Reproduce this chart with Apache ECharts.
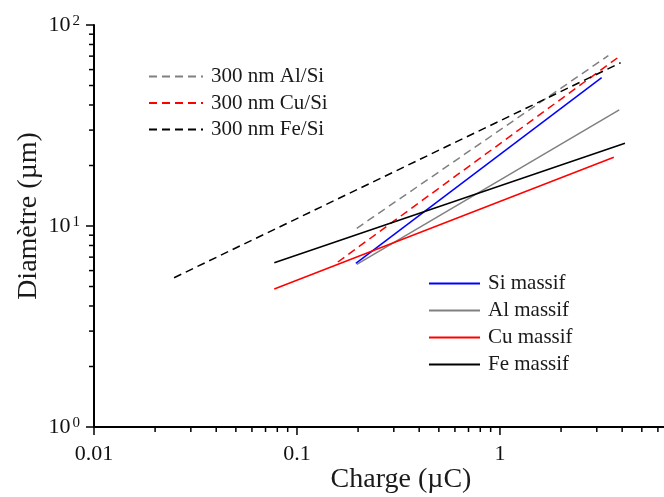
<!DOCTYPE html>
<html>
<head>
<meta charset="utf-8">
<title>Diamètre vs Charge</title>
<script src="https://cdn.jsdelivr.net/npm/echarts@6/dist/echarts.min.js"></script>
<style>
  html, body { margin: 0; padding: 0; background: #fff; }
  #chart { width: 664px; height: 497px; }
</style>
</head>
<body>
<div id="chart"></div>
<script>
// values (log-log, straight power-law segments)
var alSiFilm = [[0.197, 9.74], [3.42, 70.4]];
var cuSiFilm = [[0.159, 6.62], [3.83, 69.1]];
var feSiFilm = [[0.0248, 5.53], [3.93, 64.9]];
var siBulk = [[0.195, 6.52], [3.17, 54.7]];
var alBulk = [[0.197, 6.45], [3.87, 37.8]];
var cuBulk = [[0.0773, 4.86], [3.64, 21.97]];
var feBulk = [[0.0773, 6.57], [4.13, 25.8]];

var xMin = 0.01, xMax = 6.43;
var yMin = 1, yMax = 100;
var xTickLabels = ['0.01', '0.1', '1'];
var yTickExp = ['0', '1', '2'];
var xTicks = [0.01, 0.02, 0.03, 0.04, 0.05, 0.06, 0.07, 0.08, 0.09,
  0.1, 0.2, 0.3, 0.4, 0.5, 0.6, 0.7, 0.8, 0.9,
  1, 2, 3, 4, 5, 6];
var yTicks = [1, 2, 3, 4, 5, 6, 7, 8, 9,
  10, 20, 30, 40, 50, 60, 70, 80, 90, 100];

var serif = "'Liberation Serif', 'Times New Roman', serif";
var dash = [8, 5];

function isMajor(v) {
  var l = Math.log10(v);
  return Math.abs(l - Math.round(l)) < 1e-6;
}

function lineSeries(name, data, color, dashed) {
  return {
    name: name,
    type: 'line',
    data: data,
    symbol: 'none',
    silent: true,
    lineStyle: { color: color, width: 1.5, type: dashed ? dash : 'solid' },
    itemStyle: { color: color }
  };
}

var chart = echarts.init(document.getElementById('chart'));
var option = {
  backgroundColor: '#fff',
  animation: false,
  grid: { left: 94, right: 0, top: 25, bottom: 70, outerBoundsMode: 'none', containLabel: false },
  legend: [
    {
      data: ['300 nm Al/Si', '300 nm Cu/Si', '300 nm Fe/Si'],
      orient: 'vertical',
      left: 148,
      top: 66,
      padding: 0,
      itemWidth: 54,
      itemHeight: 12,
      itemGap: 5.5,
      itemStyle: { opacity: 0 },
      textStyle: { fontFamily: serif, fontSize: 21, lineHeight: 21, color: '#1a1a1a', padding: [0, 0, 0, 3] }
    },
    {
      data: ['Si massif', 'Al massif', 'Cu massif', 'Fe massif'],
      orient: 'vertical',
      left: 428,
      top: 273,
      padding: 0,
      itemWidth: 51,
      itemHeight: 12,
      itemGap: 6,
      itemStyle: { opacity: 0 },
      textStyle: { fontFamily: serif, fontSize: 21, lineHeight: 21, color: '#1a1a1a', padding: [0, 0, 0, 3] }
    }
  ],
  xAxis: {
    type: 'log',
    logBase: 10,
    min: xMin,
    max: xMax,
    name: 'Charge (µC)',
    nameLocation: 'middle',
    nameGap: 39,
    nameMoveOverlap: false,
    nameTextStyle: { fontFamily: serif, fontSize: 28, color: '#1a1a1a', padding: [0, 0, 0, 44] },
    axisLine: { lineStyle: { color: '#000', width: 2 } },
    axisTick: { show: false },
    splitLine: { show: false },
    axisLabel: {
      margin: 16,
      fontFamily: serif,
      fontSize: 22,
      color: '#111',
      formatter: function (v) {
        if (!isMajor(v)) return '';
        return xTickLabels[Math.round(Math.log10(v)) + 2] || '';
      }
    }
  },
  yAxis: {
    type: 'log',
    logBase: 10,
    min: yMin,
    max: yMax,
    name: 'Diamètre (µm)',
    nameLocation: 'middle',
    nameRotate: 90,
    nameGap: 51,
    nameMoveOverlap: false,
    nameTextStyle: { fontFamily: serif, fontSize: 28, color: '#1a1a1a', padding: [0, 0, 0, 20] },
    axisLine: { lineStyle: { color: '#000', width: 2 } },
    axisTick: { show: false },
    splitLine: { show: false },
    axisLabel: {
      margin: 14,
      color: '#111',
      formatter: function (v) {
        if (!isMajor(v)) return '';
        return '{b|10}{s|' + yTickExp[Math.round(Math.log10(v))] + '}';
      },
      rich: {
        b: { fontFamily: serif, fontSize: 22, lineHeight: 22, color: '#111' },
        s: { fontFamily: serif, fontSize: 15, lineHeight: 15, color: '#111', verticalAlign: 'top', padding: [0, 0, 0, 2] }
      }
    }
  },
  series: [
    lineSeries('300 nm Al/Si', alSiFilm, '#808080', true),
    lineSeries('300 nm Cu/Si', cuSiFilm, '#ff0000', true),
    lineSeries('300 nm Fe/Si', feSiFilm, '#000000', true),
    lineSeries('Si massif', siBulk, '#0000ff', false),
    lineSeries('Al massif', alBulk, '#808080', false),
    lineSeries('Cu massif', cuBulk, '#ff0000', false),
    lineSeries('Fe massif', feBulk, '#000000', false),
    {
      type: 'custom',
      silent: true,
      clip: false,
      data: xTicks.map(function (v) { return [v, yMin]; }),
      renderItem: function (params, api) {
        var v = api.value(0);
        var p = api.coord([v, api.value(1)]);
        var len = isMajor(v) ? 8 : 5;
        return {
          type: 'line',
          shape: { x1: p[0], y1: p[1], x2: p[0], y2: p[1] + len },
          style: { stroke: '#000', lineWidth: 1.5 }
        };
      }
    },
    {
      type: 'custom',
      silent: true,
      clip: false,
      data: yTicks.map(function (v) { return [xMin, v]; }),
      renderItem: function (params, api) {
        var v = api.value(1);
        var p = api.coord([api.value(0), v]);
        var len = isMajor(v) ? 8 : 5;
        return {
          type: 'line',
          shape: { x1: p[0], y1: p[1], x2: p[0] - len, y2: p[1] },
          style: { stroke: '#000', lineWidth: 1.5 }
        };
      }
    }
  ]
};
chart.setOption(option);
</script>
</body>
</html>
